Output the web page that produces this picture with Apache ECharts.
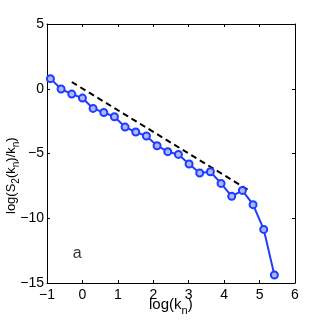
<!DOCTYPE html>
<head>
    <meta charset="utf-8">
    <title>ECharts</title>
    <style>html,body{margin:0;padding:0;background:#fff;}</style>
</head>
<body>
    <div id="main" style="width:327px;height:327px"></div>
    <script src="https://cdn.jsdelivr.net/npm/echarts@6/dist/echarts.min.js"></script>
    <script type="text/javascript">
var myChart = echarts.init(document.getElementById('main'));

// log(k_n) and log(S2(k_n)/k_n)
var logK = [-0.903, -0.602, -0.301, 0, 0.301, 0.602, 0.903, 1.204, 1.505, 1.806, 2.107,
            2.408, 2.709, 3.010, 3.311, 3.612, 3.913, 4.214, 4.515, 4.816, 5.117, 5.418];
var logS = [0.78, -0.02, -0.41, -0.72, -1.52, -1.83, -2.16, -2.96, -3.34, -3.65, -4.40,
            -4.86, -5.07, -5.81, -6.51, -6.41, -7.31, -8.31, -7.85, -8.95, -10.86, -14.38];
// -5/3 reference line
var refX = [-0.3, 4.75];
var refY = [0.52, -7.93];

var font = 'Liberation Sans, Arial, sans-serif';
function fmt(v) { return v < 0 ? '\u2212' + Math.abs(v) : String(v); }

var seriesData = logK.map(function (x, i) { return [x, logS[i]]; });
var refData = refX.map(function (x, i) { return [x, refY[i]]; });

var inTick = { show: true, inside: true, length: 3, lineStyle: { color: '#000', width: 1 } };
var line = { show: true, onZero: false, lineStyle: { color: '#000', width: 1 } };

myChart.setOption({
    animation: false,
    grid: { left: 47, right: 32, top: 24, bottom: 44 },
    xAxis: [{
        type: 'value', min: -1, max: 6, interval: 1,
        axisLine: line, axisTick: inTick, splitLine: { show: false },
        axisLabel: { color: '#000', fontFamily: font, fontSize: 14, margin: 5, formatter: fmt }
    }, {
        type: 'value', position: 'top', min: -1, max: 6, interval: 1,
        axisLine: line, axisTick: inTick, axisLabel: { show: false }, splitLine: { show: false }
    }],
    yAxis: [{
        type: 'value', min: -15, max: 5, interval: 5,
        axisLine: line, axisTick: inTick, splitLine: { show: false },
        axisLabel: { color: '#000', fontFamily: font, fontSize: 14, margin: 3, formatter: fmt }
    }, {
        type: 'value', position: 'right', min: -15, max: 5, interval: 5,
        axisLine: line, axisTick: inTick, axisLabel: { show: false }, splitLine: { show: false }
    }],
    graphic: [{
        type: 'text', left: 149, top: 297,
        style: {
            text: '{b|log(k}{s|n}{b|)}',
            rich: {
                b: { fontFamily: font, fontSize: 15, fill: '#000' },
                s: { fontFamily: font, fontSize: 11, fill: '#000', padding: [12, 0, 0, 0] }
            }
        }
    }, {
        type: 'text', x: 1, y: 214, rotation: Math.PI / 2,
        style: {
            text: '{b|log(S}{s|2}{b|(k}{s|n}{b|)/k}{s|n}{b|)}',
            rich: {
                b: { fontFamily: font, fontSize: 13, fill: '#000' },
                s: { fontFamily: font, fontSize: 10, fill: '#000', padding: [10, 0, 0, 0] }
            }
        }
    }],
    series: [{
        type: 'line',
        data: seriesData,
        lineStyle: { color: '#1f3cff', width: 2 },
        symbol: 'circle', symbolSize: 7,
        itemStyle: { color: '#aab8ff', borderColor: '#1f3cff', borderWidth: 2 }
    }, {
        type: 'line',
        data: refData,
        symbol: 'none',
        lineStyle: { color: '#000', width: 2, type: [6, 4] }
    }, {
        type: 'scatter',
        data: [[-0.15, -12.7]],
        symbolSize: 0,
        label: { show: true, formatter: 'a', color: '#000', fontFamily: font, fontSize: 16, position: 'inside' }
    }]
});
    </script>
</body>
